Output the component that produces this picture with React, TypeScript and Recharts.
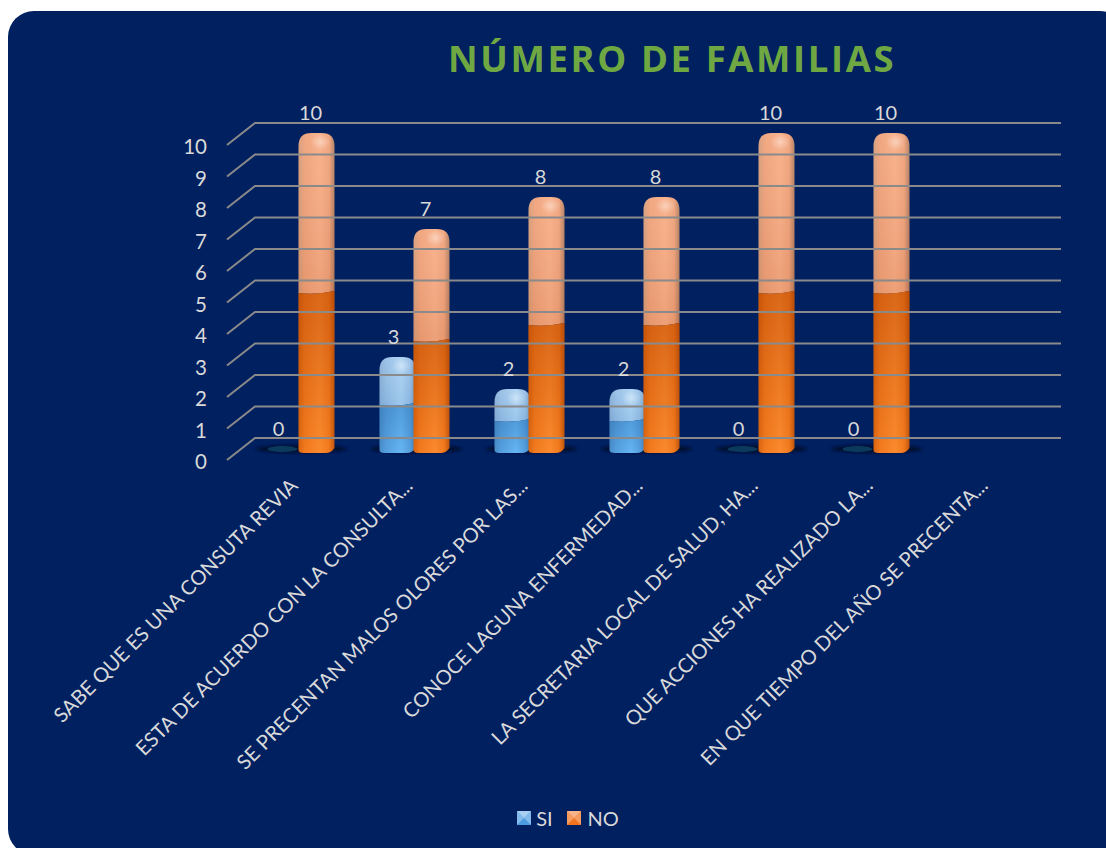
import React from "react";
import { ComposedChart, Bar, Line, XAxis, YAxis, Legend, LabelList } from "recharts";

const categories = [
  "SABE QUE ES UNA CONSUTA REVIA",
  "ESTA DE ACUERDO CON LA CONSULTA...",
  "SE PRECENTAN MALOS OLORES POR LAS...",
  "CONOCE LAGUNA ENFERMEDAD...",
  "LA SECRETARIA LOCAL DE SALUD, HA...",
  "QUE ACCIONES HA REALIZADO LA...",
  "EN QUE TIEMPO DEL AÑO SE PRECENTA...",
];
const siValues = [0, 3, 2, 2, 0, 0, null];
const noValues = [10, 7, 8, 8, 10, 10, null];
const yTicks = [0, 1, 2, 3, 4, 5, 6, 7, 8, 9, 10];

const data = categories.map((name, i) => ({
  name,
  SI: siValues[i],
  NO: noValues[i],
}));

const FONT = "Lato, Carlito, sans-serif";
const TEXT = "#D9D9D9";
const GRID = "#8A8A8A";

function YTick({ y, payload }: any) {
  // 3D wall: slanted stub from the front edge, then the back line
  return (
    <g>
      <path
        d={`M227 ${y} L255 ${y - 22} L1061 ${y - 22}`}
        fill="none"
        stroke={GRID}
        strokeWidth={2}
      />
      <text
        x={207}
        y={y + 1}
        textAnchor="end"
        dominantBaseline="central"
        fontSize={20.5}
        fill={TEXT}
        fontFamily={FONT}
      >
        {payload.value}
      </text>
    </g>
  );
}

function XTick({ x, y, payload }: any) {
  const tx = x;
  const ty = y + 19;
  return (
    <text
      x={tx}
      y={ty}
      transform={`rotate(-45 ${tx} ${ty})`}
      textAnchor="end"
      fontSize={20.2}
      fill={TEXT}
      fontFamily={FONT}
    >
      {payload.value}
    </text>
  );
}

function Cylinder({ x, y, width, height, light, dark, shine, shade }: any) {
  if (!height || height <= 0) return null;
  const mid = y + height / 2;
  const bottom = y + height;
  const r = 13;
  const upper = `M${x} ${mid} L${x} ${y + r} Q${x} ${y} ${x + r} ${y} L${x + width - r} ${y} Q${x + width} ${y} ${x + width} ${y + r} L${x + width} ${mid - 2} Q${x + width / 2} ${mid + 2} ${x} ${mid} Z`;
  const lower = `M${x} ${mid} Q${x + width / 2} ${mid + 2} ${x + width} ${mid - 2} L${x + width} ${bottom - 5} Q${x + width - 3} ${bottom} ${x + width - 9} ${bottom} L${x + 5} ${bottom} Q${x} ${bottom} ${x} ${bottom - 3} Z`;
  return (
    <g>
      <path d={upper} fill={`url(#${light})`} />
      <path d={upper} fill={`url(#${shine})`} />
      <path d={lower} fill={`url(#${dark})`} />
      <path d={lower} fill={`url(#${shade})`} />
      <ellipse cx={x + width / 2 + 4} cy={y + 9} rx={10} ry={8} fill="url(#spot)" />
    </g>
  );
}

function SiBar(props: any) {
  const { x, y, width, height } = props;
  const base = y + height;
  return (
    <g>
      <ellipse cx={x + width + 1} cy={base - 4} rx={46} ry={4} fill="#00102F" filter="url(#soft)" />
      {height <= 0 && (
        <ellipse cx={x + width / 2} cy={base - 4} rx={15} ry={3} fill="#0B3A5C" />
      )}
      <Cylinder {...props} light="siLight" dark="siDark" shine="siShine" shade="siShade" />
    </g>
  );
}

function NoBar(props: any) {
  return <Cylinder {...props} light="noLight" dark="noDark" shine="noShine" shade="noShade" />;
}

function ValueLabel({ x, y, width, value, shift }: any) {
  if (value === null || value === undefined) return null;
  return (
    <text
      x={x + width / 2 + shift}
      y={value === 0 ? y - 25 : y - 21}
      textAnchor="middle"
      dominantBaseline="central"
      fontSize={20}
      fill={TEXT}
      fontFamily={FONT}
    >
      {value}
    </text>
  );
}

function LegendIcon({ light, dark }: { light: string; dark: string }) {
  return (
    <svg width={14} height={14} style={{ display: "block" }}>
      <rect width={14} height={14} fill={dark} />
      <path d="M0 0 L14 0 L7 7 Z" fill={light} />
      <path d="M0 14 L14 14 L7 7 Z" fill={dark} />
      <path d="M0 0 L0 14 L7 7 Z" fill={light} opacity={0.6} />
      <path d="M14 0 L14 14 L7 7 Z" fill={light} opacity={0.6} />
    </svg>
  );
}

function LegendContent() {
  return (
    <div
      style={{
        display: "flex",
        justifyContent: "center",
        gap: 14,
        color: TEXT,
        fontFamily: FONT,
        fontSize: 20,
      }}
    >
      <div style={{ display: "flex", alignItems: "center", gap: 5 }}>
        <LegendIcon light="#A9CFF2" dark="#4A9BE0" />
        SI
      </div>
      <div style={{ display: "flex", alignItems: "center", gap: 7 }}>
        <LegendIcon light="#F7B48C" dark="#F0751E" />
        NO
      </div>
    </div>
  );
}

function hGradient(id: string, left: string, center: string, bright: string, right: string) {
  return (
    <linearGradient id={id} x1="0" y1="0" x2="1" y2="0">
      <stop offset="0%" stopColor={left} />
      <stop offset="18%" stopColor={center} />
      <stop offset="60%" stopColor={bright} />
      <stop offset="85%" stopColor={center} />
      <stop offset="100%" stopColor={right} />
    </linearGradient>
  );
}

function vGradient(id: string, top: string, topAlpha: number, bottom: string, bottomAlpha: number) {
  return (
    <linearGradient id={id} x1="0" y1="0" x2="0" y2="1">
      <stop offset="0%" stopColor={top} stopOpacity={topAlpha} />
      <stop offset="100%" stopColor={bottom} stopOpacity={bottomAlpha} />
    </linearGradient>
  );
}

export default function App() {
  return (
    <div style={{ position: "absolute", left: 0, top: 0, width: 1106, height: 848, background: "#fff", overflow: "hidden" }}>
      <div
        style={{
          position: "absolute",
          left: 8,
          top: 11,
          width: 1118,
          height: 844,
          background: "#002060",
          borderRadius: 26,
        }}
      />
      <div
        style={{
          position: "absolute",
          left: 448,
          top: 34,
          width: 446,
          textAlign: "center",
          whiteSpace: "nowrap",
          fontFamily: "'Open Sans', sans-serif",
          fontWeight: 700,
          fontSize: 36.5,
          letterSpacing: 2.6,
          color: "#6FA843",
          lineHeight: "48px",
        }}
      >
        NÚMERO DE FAMILIAS
      </div>
      <div style={{ position: "absolute", left: 0, top: 0 }}>
        <ComposedChart
          width={1106}
          height={848}
          data={data}
          margin={{ top: 125, right: 59.5, bottom: 0, left: 181.5 }}
          barSize={36}
          barGap={-2}
        >
          <defs>
            {hGradient("noLight", "#D39A78", "#EFA078", "#F7AC84", "#B07A5C")}
            {hGradient("noDark", "#D9650F", "#F27A1E", "#FB8A2E", "#C2560C")}
            {hGradient("siLight", "#86ACD4", "#94BCE4", "#A8D0F2", "#7097BC")}
            {hGradient("siDark", "#4A8CC8", "#559FDF", "#66B6F4", "#3F7FBA")}
            {vGradient("noShine", "#fff", 0.08, "#A85020", 0.12)}
            {vGradient("noShade", "#B04000", 0.45, "#B04000", 0)}
            {vGradient("siShine", "#fff", 0.08, "#3F7FBA", 0.12)}
            {vGradient("siShade", "#2A6AA8", 0.35, "#2A6AA8", 0)}
            <radialGradient id="spot">
              <stop offset="0%" stopColor="#fff" stopOpacity={0.4} />
              <stop offset="100%" stopColor="#fff" stopOpacity={0} />
            </radialGradient>
            <filter id="soft" x="-20%" y="-100%" width="140%" height="300%">
              <feGaussianBlur stdDeviation="1.5" />
            </filter>
          </defs>
          <YAxis
            yAxisId="ticks"
            width={60}
            domain={[0, 10.635]}
            ticks={yTicks}
            interval={0}
            axisLine={false}
            tickLine={false}
            tick={<YTick />}
          />
          <YAxis yAxisId="bars" hide width={0} domain={[-0.21875, 10.25]} />
          <XAxis
            dataKey="name"
            height={388}
            interval={0}
            axisLine={false}
            tickLine={false}
            tick={<XTick />}
          />
          {/* invisible, only keeps the wall axis alive */}
          <Line
            yAxisId="ticks"
            dataKey="NO"
            stroke="none"
            dot={false}
            activeDot={false}
            legendType="none"
            isAnimationActive={false}
          />
          <Bar yAxisId="bars" dataKey="SI" shape={<SiBar />} isAnimationActive={false}>
            <LabelList dataKey="SI" content={<ValueLabel shift={-4} />} />
          </Bar>
          <Bar yAxisId="bars" dataKey="NO" shape={<NoBar />} isAnimationActive={false}>
            <LabelList dataKey="NO" content={<ValueLabel shift={-6} />} />
          </Bar>
          <Legend
            verticalAlign="middle"
            content={<LegendContent />}
            wrapperStyle={{ left: 15, width: 1106, top: 806 }}
          />
        </ComposedChart>
      </div>
    </div>
  );
}
